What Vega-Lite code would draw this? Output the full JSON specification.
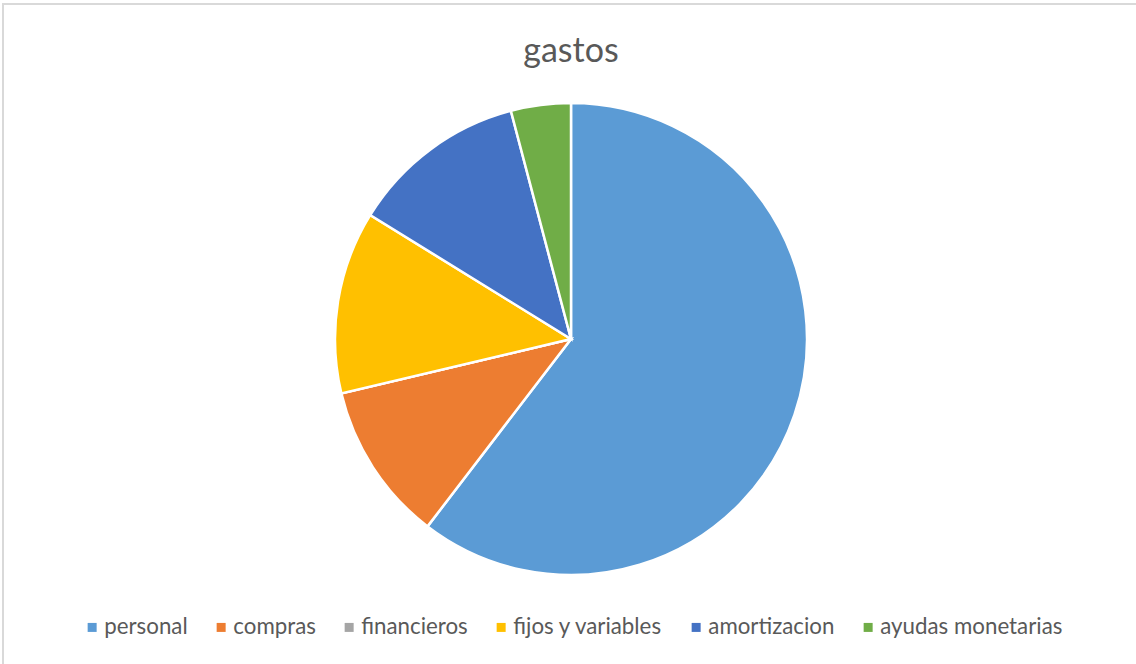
{
  "$schema": "https://vega.github.io/schema/vega-lite/v6.json",
  "autosize": {"type": "none"},
  "padding": {"left": 3, "top": 4, "right": 0, "bottom": 0},
  "width": 1136,
  "height": 670,
  "background": "white",
  "config": {
    "view": {"stroke": null},
    "font": "Lato"
  },
  "title": {
    "text": "gastos",
    "anchor": "middle",
    "orient": "top",
    "offset": -66,
    "fontSize": 34,
    "fontWeight": "normal",
    "color": "#595959",
    "font": "Lato"
  },
  "data": {
    "values": [
      {"categoria": "personal", "idx": 1, "valor": 60.4},
      {"categoria": "compras", "idx": 2, "valor": 10.9},
      {"categoria": "financieros", "idx": 3, "valor": 0},
      {"categoria": "fijos y variables", "idx": 4, "valor": 12.5},
      {"categoria": "amortizacion", "idx": 5, "valor": 12.1},
      {"categoria": "ayudas monetarias", "idx": 6, "valor": 4.1}
    ]
  },
  "layer": [
    {
      "mark": {"type": "rect", "fill": null, "stroke": "#D9D9D9", "strokeWidth": 2},
      "encoding": {}
    },
    {
      "mark": {"type": "arc", "outerRadius": 236, "stroke": "white", "strokeWidth": 2.5},
      "encoding": {
        "theta": {"field": "valor", "type": "quantitative", "stack": true},
        "order": {"field": "idx", "type": "quantitative"},
        "color": {
          "field": "categoria",
          "type": "nominal",
          "scale": {
            "domain": ["personal", "compras", "financieros", "fijos y variables", "amortizacion", "ayudas monetarias"],
            "range": ["#5B9BD5", "#ED7D31", "#A5A5A5", "#FFC000", "#4472C4", "#70AD47"]
          },
          "legend": {
            "title": null,
            "orient": "none",
            "direction": "horizontal",
            "legendX": 78,
            "legendY": 612,
            "symbolType": "square",
            "symbolSize": 81,
            "symbolStrokeWidth": 0,
            "labelFontSize": 22.3,
            "labelColor": "#595959",
            "labelFont": "Lato",
            "labelLimit": 400,
            "columnPadding": 22,
            "labelOffset": 1
          }
        }
      }
    }
  ]
}
